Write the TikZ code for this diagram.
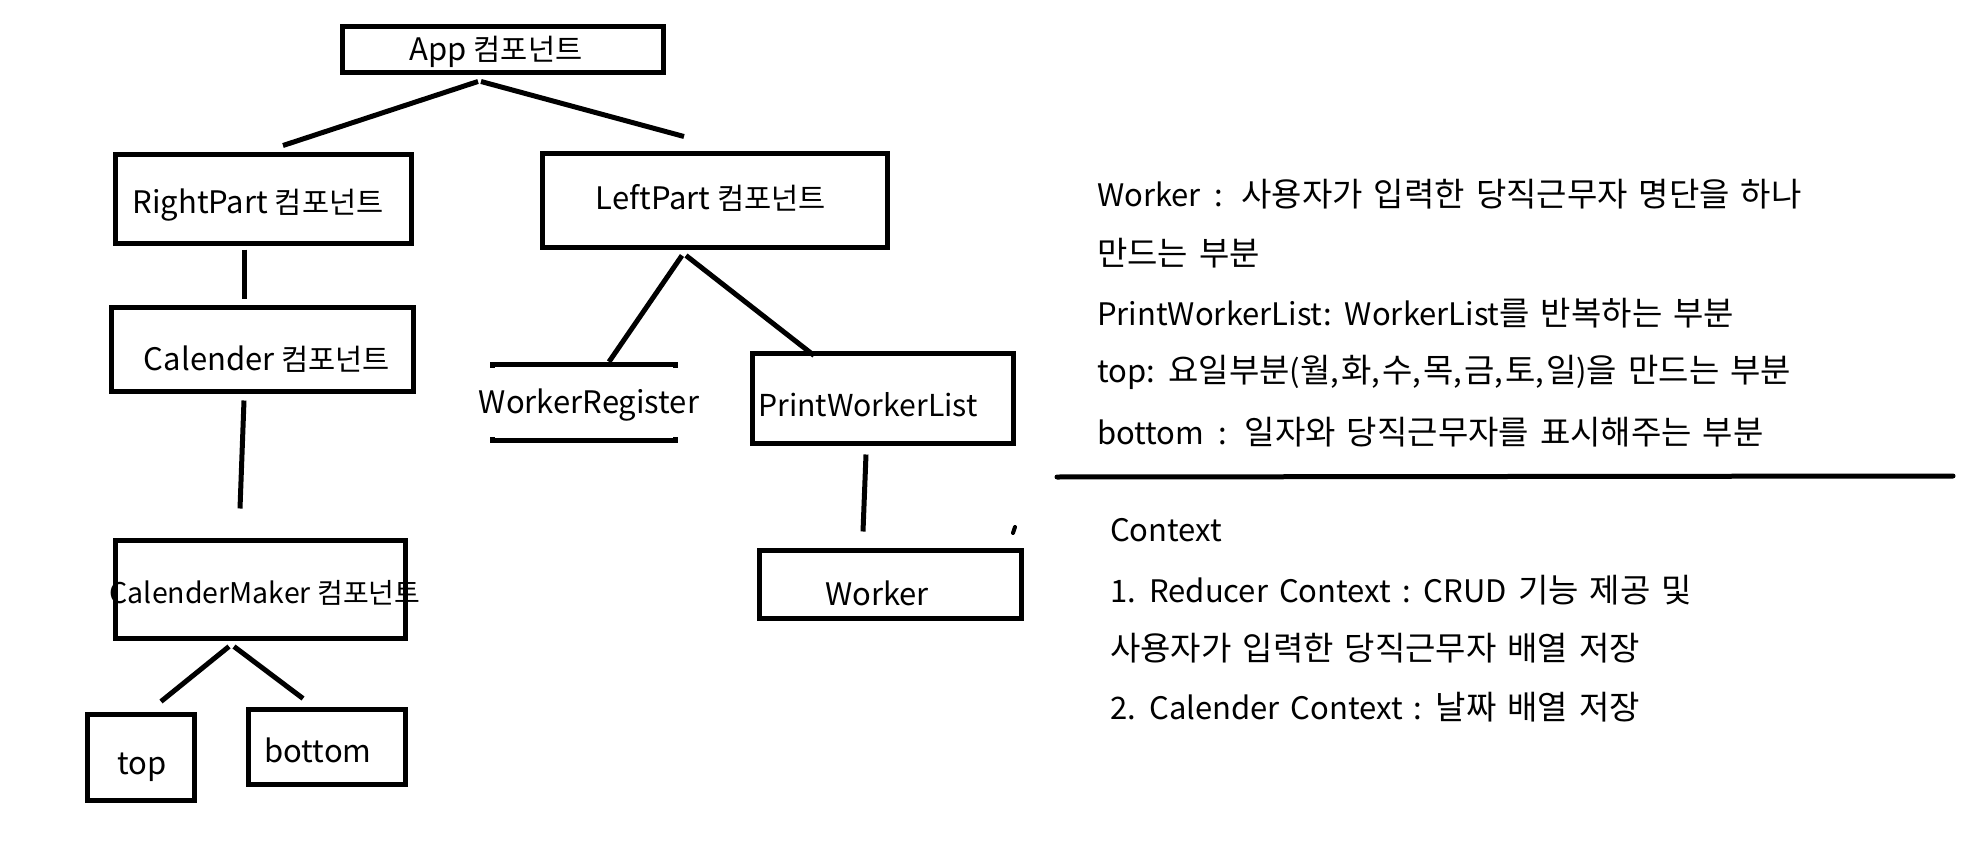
\documentclass[tikz,border=0pt]{standalone}
\usepackage{fontspec}
\setmainfont{Noto Sans CJK KR}
\newcommand{\hgb}[1]{{\fontsize{29.5}{35}\selectfont #1}}
\newcommand{\widesp}{\spaceskip=11pt plus 2pt minus 1pt\relax}
\newcommand{\hgr}[1]{{\fontsize{33}{38}\selectfont\widesp #1}}
\newcommand{\txtfont}{\fontsize{31}{37}\selectfont\widesp}
\newcommand{\cm}{,\kern2pt\relax}
\usetikzlibrary{calc}
\begin{document}
\begin{tikzpicture}[x=1pt,y=-1pt,
  box/.style={draw,line width=5pt,inner sep=0pt},
  lbl/.style={inner sep=0pt,font=\fontsize{31}{37}\selectfont},
  txt/.style={inner sep=0pt,anchor=west,font=\txtfont},
  conn/.style={line width=5pt}]
\useasboundingbox[fill=white] (0,0) rectangle (1982,848);
% boxes
\node[box,minimum width=321pt,minimum height=46pt] (app) at (503,49.5) {};
\node[box,minimum width=296pt,minimum height=89pt] (rp) at (263.5,199) {};
\node[box,minimum width=345pt,minimum height=94pt] (lp) at (715,200.5) {};
\node[box,minimum width=302pt,minimum height=84pt] (cal) at (262.5,349.5) {};
\node[box,minimum width=290pt,minimum height=98pt] (cm) at (260.5,589.5) {};
\node[box,minimum width=107pt,minimum height=86pt] (top) at (141,757.5) {};
\node[box,minimum width=157pt,minimum height=75pt] (bot) at (327,747) {};
\node[box,minimum width=261pt,minimum height=90pt] (pwl) at (883,398.5) {};
\node[box,minimum width=262pt,minimum height=68pt] (wk) at (890.5,584.5) {};
\node[inner sep=0pt,minimum width=182pt,minimum height=75pt] (wr) at (584,402.5) {};
\draw[line width=5pt] ($(wr.north west)+(0,3)$) -- (wr.north west) -- (wr.north east) -- ($(wr.north east)+(0,3)$);
\draw[line width=5pt] ($(wr.south west)+(0,-3)$) -- (wr.south west) -- (wr.south east) -- ($(wr.south east)+(0,-3)$);
% labels
\node[lbl] (appt) at (496,52) {App \hgb{컴포넌트}};
\node[lbl] (rpt) at (258,205) {RightPart \hgb{컴포넌트}};
\node[lbl] (lpt) at (711,198) {LeftPart \hgb{컴포넌트}};
\node[lbl] (calt) at (267,359) {Calender \hgb{컴포넌트}};
\node[lbl,font=\fontsize{28.5}{34}\selectfont] (cmt) at (265,593) {CalenderMaker {\fontsize{28}{34}\selectfont 컴포넌트}};
\node[lbl] (topt) at (142,767) {top};
\node[lbl] (bott) at (318,750) {bottom};
\node[lbl] (wrt) at (589,405) {WorkerRegister};
\node[lbl,font=\fontsize{30.2}{36}\selectfont] (pwlt) at (868,405) {PrintWorkerList};
\node[lbl] (wkt) at (877,593) {Worker};
% connectors
\draw[conn] ($(app.south)+(-25,6.5)$) -- ($(rp.north)+(19.5,-6.5)$);
\draw[conn] ($(app.south)+(-22,6.5)$) -- ($(lp.north)+(-31,-14.5)$);
\draw[conn] ($(rp.south)+(-19.5,3.5)$) -- ($(cal.north)+(-18.5,-6.5)$);
\draw[conn] ($(cal.south)+(-18.5,6.5)$) -- ($(cm.north)+(-20.5,-29.5)$);
\draw[conn] ($(cm.south)+(-31.5,5.5)$) -- ($(top.north)+(20,-10.5)$);
\draw[conn] ($(cm.south)+(-26.5,5.5)$) -- ($(bot.north)+(-24,-8.5)$);
\draw[conn] ($(lp.south)+(-33,5.5)$) -- ($(wr.north)+(25,-3)$);
\draw[conn] ($(lp.south)+(-29,5.5)$) -- ($(pwl.north)+(-69,4.5)$);
\draw[conn] ($(pwl.south)+(-17,8.5)$) -- ($(wk.north)+(-27.5,-16.5)$);
% stray mark
\coordinate (mk) at (1014,530);
\draw[line width=4pt,line cap=round] ($(mk)+(-1,3)$) -- ($(mk)+(1,-3)$);
% right texts
\node[txt] (n1) at (1097,194) {Worker\hspace{14pt}:\hspace{18pt}\hgr{사용자가 입력한 당직근무자 명단을 하나}};
\node[txt] (n2) at (1097,253) {\hgr{만드는 부분}};
\node[txt] (n3) at (1097,313) {PrintWorkerList: WorkerList\hgr{를 반복하는 부분}};
\node[txt] (n4) at (1097,372) {top: \hgr{요일부분}(\hgr{월}\cm\hgr{화}\cm\hgr{수}\cm\hgr{목}\cm\hgr{금}\cm\hgr{토}\cm\hgr{일})\hgr{을 만드는 부분}};
\node[txt] (n5) at (1097,432) {bottom\hspace{14pt}:\hspace{18pt}\hgr{일자와 당직근무자를 표시해주는 부분}};
\coordinate (s1) at (1057,477);
\coordinate (s2) at (1953,476);
\draw[line width=5pt,line cap=round] (s1) -- (s2);
\node[txt] (c0) at (1110,530) {Context};
\node[txt] (c1) at (1110,590) {1. Reducer Context : CRUD \hgr{기능 제공 및}};
\node[txt] (c2) at (1110,648) {\hgr{사용자가 입력한 당직근무자 배열 저장}};
\node[txt] (c3) at (1110,707) {2. Calender Context : \hgr{날짜 배열 저장}};
\end{tikzpicture}
\end{document}
